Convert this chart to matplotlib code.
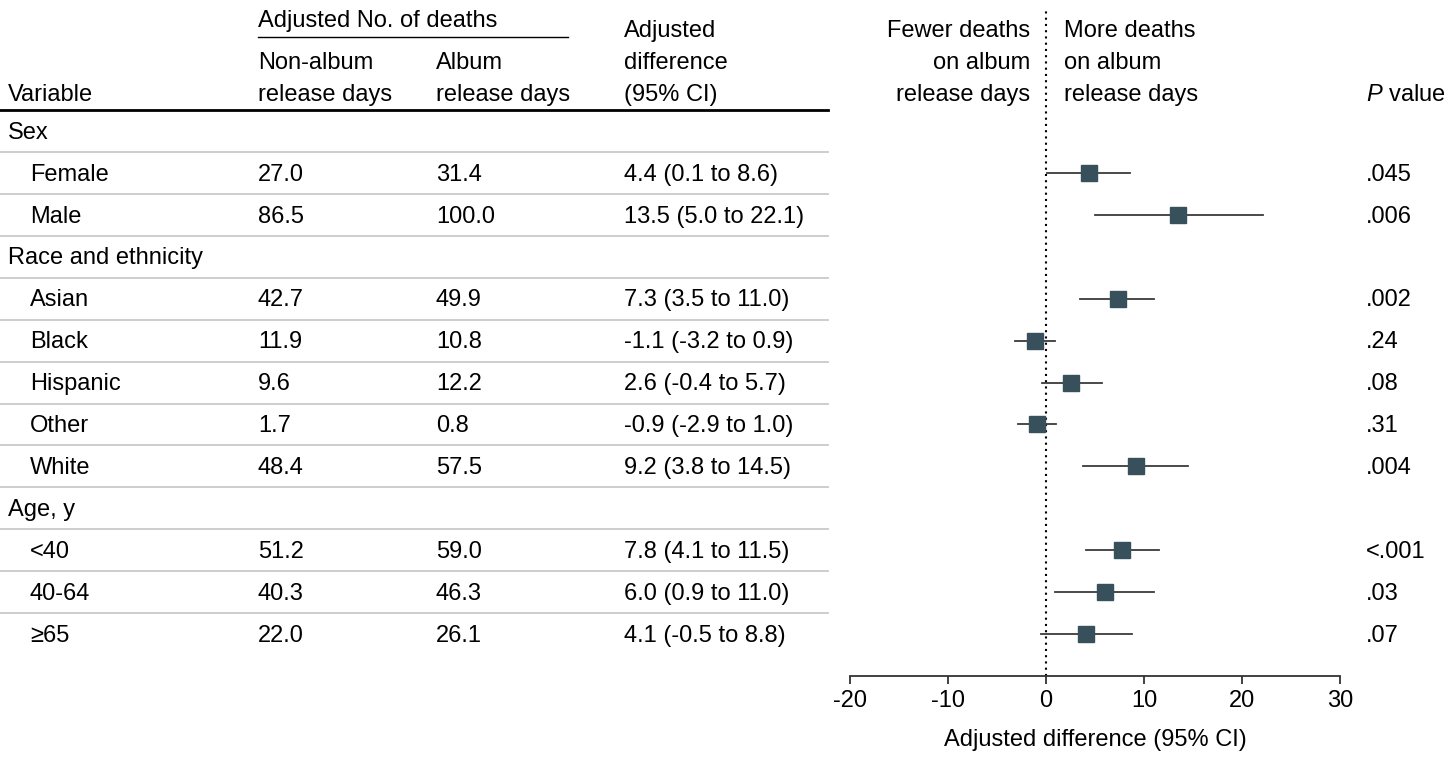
import matplotlib
matplotlib.use('Agg')
import matplotlib.pyplot as plt
from matplotlib import font_manager

# 数据
rows = ['Sex', 'Female', 'Male', 'Race and ethnicity', 'Asian', 'Black', 'Hispanic',
        'Other', 'White', 'Age, y', '<40', '40-64', '≥65']
is_group = [True, False, False, True, False, False, False, False, False, True, False, False, False]
non_album = [27.0, 86.5, 42.7, 11.9, 9.6, 1.7, 48.4, 51.2, 40.3, 22.0]
album = [31.4, 100.0, 49.9, 10.8, 12.2, 0.8, 57.5, 59.0, 46.3, 26.1]
diff = [4.4, 13.5, 7.3, -1.1, 2.6, -0.9, 9.2, 7.8, 6.0, 4.1]
ci_low = [0.1, 5.0, 3.5, -3.2, -0.4, -2.9, 3.8, 4.1, 0.9, -0.5]
ci_high = [8.6, 22.1, 11.0, 0.9, 5.7, 1.0, 14.5, 11.5, 11.0, 8.8]
p_values = ['.045', '.006', '.002', '.24', '.08', '.31', '.004', '<.001', '.03', '.07']
x_ticks = [-20, -10, 0, 10, 20, 30]
x_tick_labels = ['-20', '-10', '0', '10', '20', '30']

names = {f.name for f in font_manager.fontManager.ttflist}
main_font = 'Liberation Sans Narrow' if 'Liberation Sans Narrow' in names else 'Liberation Sans'
plt.rcParams['font.family'] = [main_font, 'DejaVu Sans']
plt.rcParams['mathtext.fontset'] = 'custom'
plt.rcParams['mathtext.it'] = main_font + ':italic'
plt.rcParams['mathtext.rm'] = main_font
fs = 17

W, H = 1448, 757
fig = plt.figure(figsize=(W / 100, H / 100), dpi=100)

# 坐标：y 用行号，顶部 -3.125，底部 13.0（轴线）
y_top, y_bot = -3.125, 13.0
ax_bottom_px = 676
tab = fig.add_axes([0, 1 - ax_bottom_px / H, 1, ax_bottom_px / H])
tab.set_xlim(0, W)
tab.set_ylim(y_bot, y_top)
tab.axis('off')

ax = fig.add_axes([850 / W, 1 - ax_bottom_px / H, 490 / W, ax_bottom_px / H])
ax.set_xlim(-20, 30)
ax.set_ylim(y_bot, y_top)
ax.patch.set_alpha(0)

col_x = [258, 436, 624]
p_x = 1366
line_end = 828
px_row = 41.92  # 每行像素


def py(p):
    # 像素 y -> 行坐标
    return (p - 131) / px_row


# 表头
hdr = dict(fontsize=fs, va='baseline', ha='left')
tab.text(8, py(101), 'Variable', **hdr)
tab.text(col_x[0], py(27), 'Adjusted No. of deaths', **hdr)
tab.plot([col_x[0], 568], [py(37), py(37)], color='black', lw=1)
for i, t in enumerate(['Non-album', 'release days']):
    tab.text(col_x[0], py(69 + 32 * i), t, **hdr)
for i, t in enumerate(['Album', 'release days']):
    tab.text(col_x[1], py(69 + 32 * i), t, **hdr)
for i, t in enumerate(['Adjusted', 'difference', '(95% CI)']):
    tab.text(col_x[2], py(37 + 32 * i), t, **hdr)
for i, t in enumerate(['Fewer deaths', 'on album', 'release days']):
    tab.text(1030, py(37 + 32 * i), t, fontsize=fs, va='baseline', ha='right')
for i, t in enumerate(['More deaths', 'on album', 'release days']):
    tab.text(1064, py(37 + 32 * i), t, **hdr)
tab.text(p_x, py(101), r'$\it{P}$ value', **hdr)
tab.plot([0, line_end], [py(110), py(110)], color='black', lw=2)

# 行
k = 0
for i, (name, grp) in enumerate(zip(rows, is_group)):
    yy = i + 0.04
    tab.text(8 if grp else 30, yy, name, fontsize=fs, va='center', ha='left')
    if i < len(rows) - 1:
        tab.plot([0, line_end], [i + 0.5, i + 0.5], color='#c9c9c9', lw=1.3)
    if grp:
        continue
    tab.text(col_x[0], yy, f'{non_album[k]:.1f}', fontsize=fs, va='center')
    tab.text(col_x[1], yy, f'{album[k]:.1f}', fontsize=fs, va='center')
    tab.text(col_x[2], yy, f'{diff[k]:.1f} ({ci_low[k]:.1f} to {ci_high[k]:.1f})',
             fontsize=fs, va='center')
    tab.text(p_x, yy, p_values[k], fontsize=fs, va='center')
    ax.plot([ci_low[k], ci_high[k]], [i, i], color='#3a3a3a', lw=1.3, zorder=2)
    ax.plot(diff[k], i, marker='s', ms=11.5, color='#37505c', zorder=3)
    k += 1

# 零线
ax.plot([0, 0], [y_bot, py(10)], color='black', lw=1.5, ls=(0, (1, 2)), zorder=1)

for s in ['top', 'right', 'left']:
    ax.spines[s].set_visible(False)
ax.spines['bottom'].set_color('#333333')
ax.spines['bottom'].set_linewidth(1.3)
ax.set_yticks([])
ax.set_xticks(x_ticks)
ax.set_xticklabels(x_tick_labels, fontsize=fs)
ax.tick_params(axis='x', length=6, width=1.3, color='#333333', pad=4)
ax.set_xlabel('Adjusted difference (95% CI)', fontsize=fs, labelpad=12)

fig.savefig('out.png', dpi=100)
